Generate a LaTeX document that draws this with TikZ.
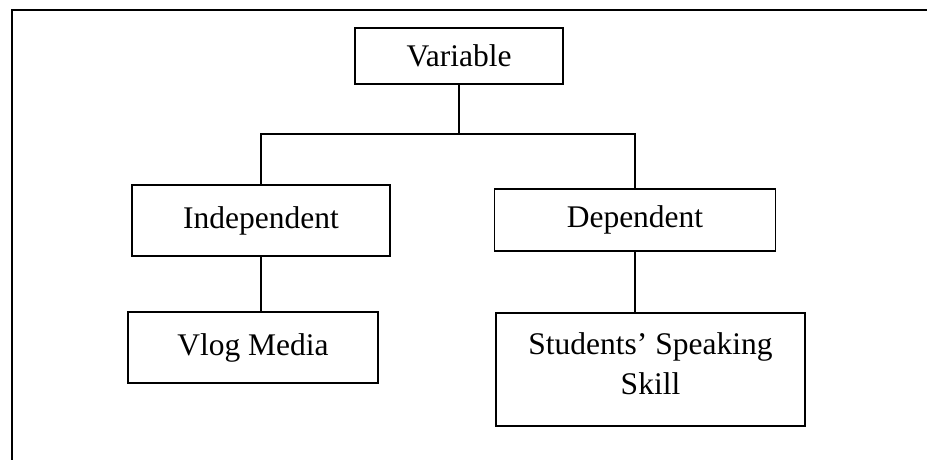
\documentclass[tikz,border=0pt]{standalone}
\usepackage{fontspec}
\setmainfont{Liberation Serif}
\begin{document}
\begin{tikzpicture}[x=1pt,y=-1pt,
  box/.style={draw=black, line width=1.4pt, inner sep=0pt, align=center,
    font=\fontsize{31.5}{40}\selectfont},
  conn/.style={draw=black, line width=1.3pt},
  frame/.style={draw=black, line width=2pt}]
\useasboundingbox (0,0) rectangle (927,459);
% outer frame (open at right and bottom)
\draw[frame] (12,460) -- (12,10) -- (928,10);
% boxes
\node[box, minimum width=208pt, minimum height=56pt] (var) at (459,56) {Variable};
\node[box, minimum width=258pt, minimum height=71pt] (ind) at (261,220.5) {Independent};
\node[box, minimum width=281pt, minimum height=62pt] (dep) at (635,220) {Dependent};
\node[box, minimum width=250pt, minimum height=71pt] (vlog) at (253,347.5) {Vlog Media};
\node[box, minimum width=309pt, minimum height=113pt,
  label={[font=\fontsize{31.5}{40}\selectfont, align=center, yshift=6pt]center:Students’ Speaking\\Skill}] (stu) at (650.5,369.5) {};
% connectors
\coordinate (bus) at (0,134);
\draw[conn] (var.south) -- (var.south |- bus);
\draw[conn] (ind.north) |- (bus -| dep.north) -- (dep.north);
\draw[conn] (ind.south) -- (ind.south |- vlog.north);
\draw[conn] (dep.south) -- (dep.south |- stu.north);
\end{tikzpicture}
\end{document}
